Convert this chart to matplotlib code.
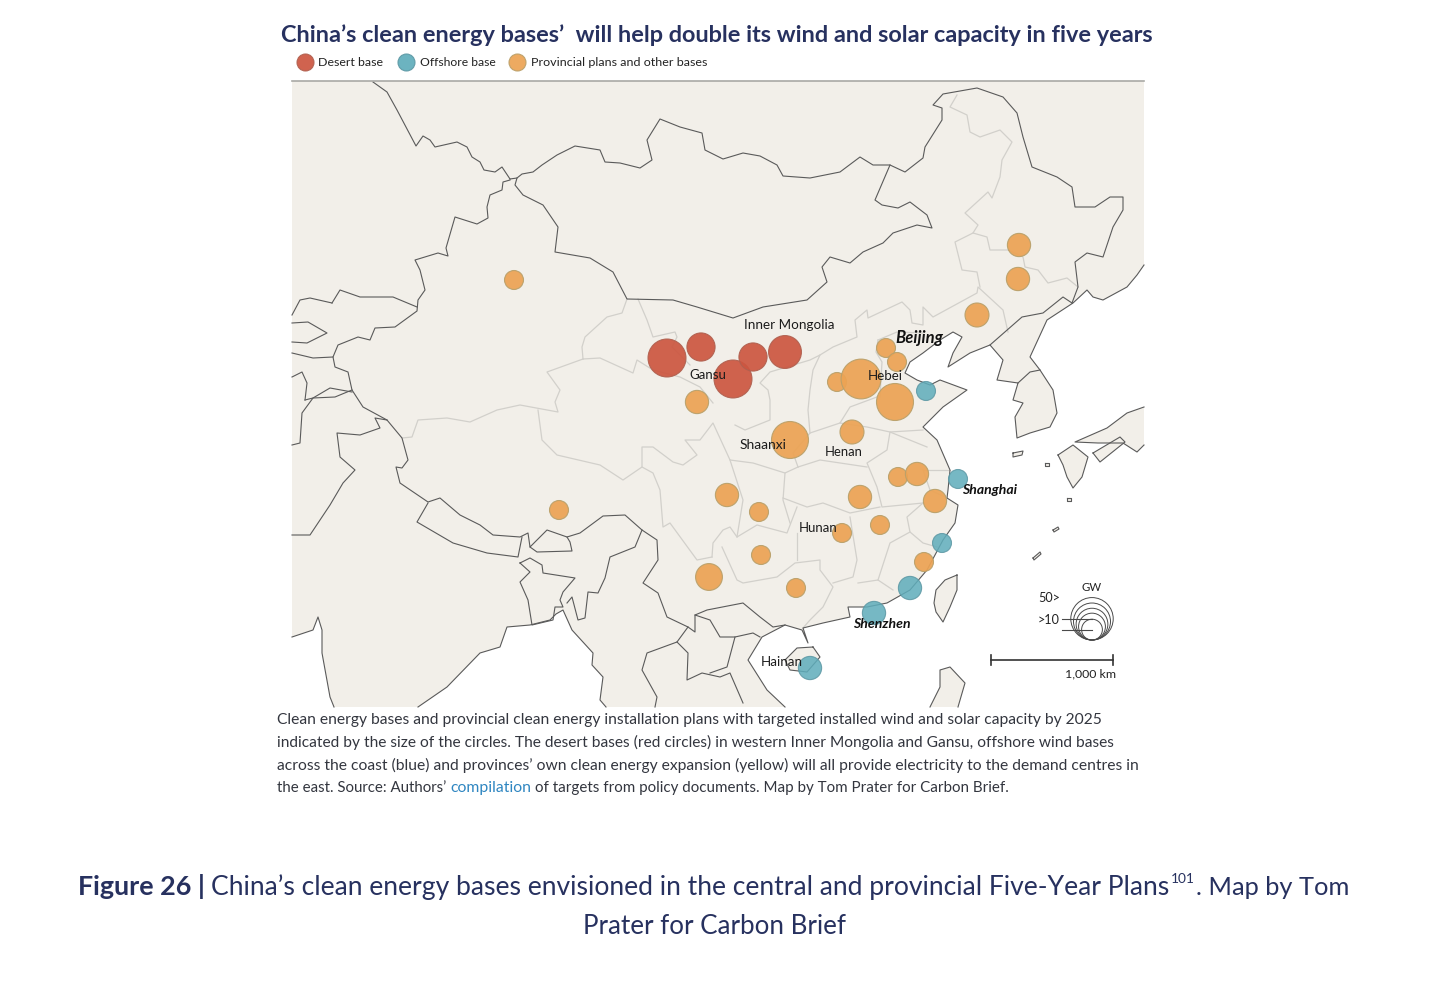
import numpy as np
import matplotlib
matplotlib.use("Agg")
import matplotlib.pyplot as plt
from matplotlib.patches import Polygon, Rectangle

# ---------- data ----------
desert_x = [667, 701, 733, 753, 785]
desert_y = [358, 347, 379, 357, 352]
desert_gw = [40, 22, 40, 22, 30]

offshore_x = [926, 958, 942, 910, 874, 810]
offshore_y = [391, 479, 543, 588, 613, 668]
offshore_gw = [10, 10, 10, 15, 15, 15]

prov_x = [514, 1019, 1018, 977, 886, 897, 837, 861, 895, 697, 790, 852, 898, 917, 935, 860, 727, 759, 880, 842, 761, 924, 709, 796, 559]
prov_y = [280, 245, 279, 315, 348, 362, 382, 379, 402, 402, 440, 432, 477, 474, 501, 497, 495, 512, 525, 533, 555, 562, 577, 588, 510]
prov_gw = [10, 15, 15, 16, 10, 10, 10, 44, 38, 15, 38, 16, 10, 15, 15, 15, 15, 10, 10, 10, 10, 10, 20, 10, 10]

size_legend_gw = [12, 20, 28, 38, 50]

title = "China\u2019s clean energy bases\u2019  will help double its wind and solar capacity in five years"
legend_labels = ["Desert base", "Offshore base", "Provincial plans and other bases"]
caption_lines = [
    "Clean energy bases and provincial clean energy installation plans with targeted installed wind and solar capacity by 2025",
    "indicated by the size of the circles. The desert bases (red circles) in western Inner Mongolia and Gansu, offshore wind bases",
    "across the coast (blue) and provinces\u2019 own clean energy expansion (yellow) will all provide electricity to the demand centres in",
]

# outlines
bay_of_bengal = [(418,707),(447,687),(480,653),(500,647),(507,627),(530,625),(550,620),(556,614),(563,610),(572,630),(593,653),(592,665),(603,677),(600,700),(606,707)]
arabian_sea = [(292,637),(313,630),(318,617),(322,630),(322,653),(330,697),(334,707)]
arabian_corner = [(292,707)]
pacific = [(1144,265),(1137,275),(1127,287),(1103,300),(1093,297),(1087,290),(1073,303),(1047,320),(1030,357),(1040,370),(1053,390),(1057,413),(1050,427),(1030,433),(1017,438),(1015,417),(1023,403),(1013,400),(1018,383),(997,380),(1003,360),(990,345),(970,353),(948,367),(953,353),(962,337),(953,332),(940,340),(923,353),(910,362),(905,373),(917,380),(930,385),(940,380),(967,390),(943,407),(923,427),(937,440),(950,470),(948,490),(947,498),(958,505),(955,523),(943,540),(927,570),(910,590),(887,603),(867,607),(848,607),(850,617),(823,623),(803,628),(808,643),(802,630),(785,625),(762,637),(748,660),(767,690),(785,707)]
pacific_corner = [(1144,707)]

taiwan = [(957,575),(945,580),(936,590),(934,603),(936,612),(943,622),(950,607),(957,590)]
hainan = [(813,647),(797,648),(785,660),(790,670),(807,672),(820,657)]
jeju = [(1013,453),(1023,451),(1022,455),(1013,457)]
kyushu = [(1058,455),(1073,445),(1088,457),(1082,477),(1073,488),(1067,477),(1063,465)]
shikoku = [(1093,453),(1120,437),(1125,442),(1100,462)]
ryukyu_a = [(1045,463),(1049,463),(1049,466),(1045,466)]
ryukyu_b = [(1067,498),(1071,498),(1071,501),(1067,501)]
ryukyu_c = [(1053,530),(1058,527),(1059,529),(1054,532)]
ryukyu_d = [(1033,558),(1040,552),(1041,554),(1034,560)]
closed_islands = [taiwan, hainan, jeju, kyushu, shikoku, ryukyu_a, ryukyu_b, ryukyu_c, ryukyu_d]
# these two run off the map edge, so their outline stays open
luzon = [(958,707),(965,683),(950,667),(940,670),(940,687),(930,707)]
honshu = [(1144,445),(1137,452),(1123,443),(1098,443),(1075,442),(1107,428),(1127,413),(1144,407)]
open_islands = [luzon, honshu]

country_lines = [
    [(373,82),(387,92),(397,110),(416,146),(423,136),(430,140),(435,147),(457,142),(467,147),(472,157),(480,162),(484,170),(495,172),(502,167),(510,179)],
    [(510,179),(517,178),(522,174),(533,172),(542,165),(557,155),(575,146),(600,150),(605,162),(620,163),(640,168),(652,160),(647,140),(660,119),(680,127),(702,133),(705,150),(723,159),(743,153),(760,156),(777,165),(783,176),(810,178),(840,172),(860,157),(873,165),(890,165),(905,172),(923,158),(925,147),(942,120),(942,108),(933,105),(943,94),(977,88),(1003,97),(1017,113),(1023,137),(1032,167),(1057,177),(1072,187),(1075,207),(1095,207),(1110,197),(1123,197),(1123,210),(1113,227),(1103,257),(1087,253),(1075,262),(1078,287),(1072,303)],
    [(517,178),(515,185),(523,195),(543,205),(558,227),(555,252),(590,258),(613,272),(627,299),(673,300),(697,307),(733,318),(763,307),(807,300),(827,282),(822,267),(830,257),(850,263),(863,252),(883,243),(893,233),(917,225),(932,228),(927,215),(910,202),(898,208),(882,205),(875,200),(890,165)],
    [(510,180),(503,182),(502,190),(490,195),(487,207),(488,218),(477,224),(455,217),(446,248),(448,256),(438,253),(415,260),(420,270),(425,290),(418,300),(417,311),(395,327),(375,328),(370,340),(358,337),(338,345),(333,357),(335,367),(348,372),(352,390),(363,407),(387,420),(402,438),(408,460),(402,468),(396,467),(400,483),(428,502),(440,498),(460,515),(480,525),(493,535),(520,537),(528,533),(530,547),(547,530),(567,537),(580,533),(603,516),(625,515),(642,530),(657,540),(658,560),(643,583),(658,593),(667,617),(688,627),(695,632),(695,615),(707,610),(743,603),(760,617),(773,627),(785,625)],
    [(428,503),(417,522),(453,543),(487,553),(518,557),(522,537)],
    [(530,547),(537,552),(572,551),(570,542),(567,537)],
    [(520,563),(530,558),(542,565),(543,573),(575,578),(563,592),(560,600),(563,607),(555,607),(553,620),(532,625),(528,600),(520,582),(530,572),(520,563)],
    [(642,530),(635,547),(610,557),(605,578),(598,593),(588,592),(585,618),(578,620),(572,597),(567,603)],
    [(387,420),(375,418),(380,428),(360,435),(337,433),(340,457),(355,470),(343,483),(330,505),(310,535),(292,535)],
    [(352,390),(335,397),(313,398),(302,413),(300,443),(292,445)],
    [(332,303),(340,290),(360,297),(393,297),(417,307)],
    [(332,303),(310,298),(300,300),(292,315)],
    [(292,323),(308,322),(327,333),(307,343),(292,342)],
    [(292,353),(313,358),(333,357)],
    [(292,377),(302,372),(307,383),(305,400)],
    [(305,400),(313,398),(330,388),(352,392)],
    [(688,627),(677,642),(647,653),(642,670),(657,697),(655,707)],
    [(677,642),(688,653),(687,680),(702,673),(720,677),(730,673),(743,703)],
    [(695,615),(710,620),(720,637),(735,637),(753,633),(760,637)],
    [(735,637),(727,667),(710,673)],
    [(1072,303),(1063,297),(1043,313),(1022,317),(990,345)],
    [(1018,383),(1030,372),(1040,370)],
]

province_lines = [
    [(627,299),(622,313),(607,317),(585,337),(582,347),(583,359)],
    [(583,359),(547,372),(560,390),(555,402),(558,412),(520,405),(497,410),(470,422),(447,418),(418,420),(412,437),(402,438)],
    [(583,359),(600,358),(633,373),(637,360),(653,370),(680,377),(700,387),(713,403)],
    [(638,299),(647,320),(653,337),(675,332),(677,337),(672,347),(690,365)],
    [(538,410),(542,440),(557,455),(600,465),(623,480),(642,467),(653,473),(660,490),(663,527),(670,523),(697,560),(712,557)],
    [(642,467),(642,447),(653,447),(673,462),(683,465),(697,455),(685,440),(700,440),(713,423),(730,460),(753,463),(785,473),(798,467)],
    [(712,557),(713,543),(723,530),(730,527),(737,537),(757,525),(787,533),(797,507)],
    [(722,547),(737,580),(743,583),(777,577),(795,563),(820,560),(820,570),(833,587),(823,607),(810,620),(803,628)],
    [(797,533),(797,560)],
    [(850,517),(857,560),(853,577),(833,583)],
    [(858,583),(878,580),(893,590)],
    [(878,580),(890,543),(910,532),(923,543),(937,547)],
    [(910,532),(907,517),(923,503)],
    [(923,503),(882,507),(877,487),(867,463),(887,450),(890,432),(927,447)],
    [(923,470),(950,470)],
    [(923,470),(930,490),(947,498)],
    [(783,498),(807,507),(823,503),(850,513),(880,507)],
    [(798,467),(820,460),(867,467)],
    [(798,467),(793,453),(810,433),(840,423),(850,407),(877,397)],
    [(810,433),(808,410),(810,390),(813,370),(820,355),(810,360),(770,372),(760,383),(768,390),(770,400),(770,420),(745,430),(735,425)],
    [(840,423),(867,427),(890,432),(923,430)],
    [(785,473),(783,500),(790,523)],
    [(730,460),(743,500),(737,537)],
    [(820,355),(833,347),(857,337),(855,320),(867,310),(868,318),(902,302),(910,310),(912,323),(923,325),(923,307),(933,317),(977,293),(978,287),(1003,310),(1008,332)],
    [(957,95),(950,107),(967,115),(970,132),(980,137),(1000,130),(1012,142),(1002,160),(1000,177),(992,198),(988,192),(965,213),(978,225),(973,233),(987,237),(990,250),(1008,250),(1023,257),(1025,267),(1038,270),(1048,283),(1067,278),(1078,287)],
    [(973,233),(955,242),(962,270),(977,272),(980,287)],
    [(878,340),(897,332),(923,333)],
    [(878,340),(876,352),(882,362),(880,397)],
]

# ---------- figure ----------
W, H = 1456, 981
NAVY = "#27315f"
BODY = "#33363f"
plt.rcParams["font.family"] = ["Lato", "DejaVu Sans"]
fig = plt.figure(figsize=(W / 100, H / 100), dpi=100, facecolor="white")
ax = fig.add_axes([0, 0, 1, 1])
ax.set_xlim(0, W)
ax.set_ylim(H, 0)
ax.axis("off")
renderer = fig.canvas.get_renderer()


def fit(x0, x1, y, s, **kw):
    """Real text, with the font size whose measured width best spans x0..x1 on baseline y."""
    t = ax.text(x0, y, s, va="baseline", ha="left", fontsize=10, zorder=10, **kw)
    target = x1 - x0
    first = 10 * target / t.get_window_extent(renderer).width
    best, best_err = first, float("inf")
    for size in first * np.linspace(0.96, 1.04, 41):
        t.set_fontsize(size)
        err = abs(t.get_window_extent(renderer).width - target)
        if err < best_err:
            best, best_err = size, err
    t.set_fontsize(best)
    return t


def radius(gw):
    return 3.0 * np.sqrt(np.asarray(gw, dtype=float))


def area(r):
    return (2 * np.asarray(r) * 72 / 100) ** 2


def trace(points, closed=False, color="#5a5a5a", lw=0.8, z=4):
    a = np.array(list(points) + ([points[0]] if closed else []))
    ax.plot(a[:, 0], a[:, 1], color=color, lw=lw, zorder=z, solid_joinstyle="round")


# map
LAND = "#f2efe9"
frame = Rectangle((292, 81), 852, 626, fc=LAND, ec="none", zorder=1)
ax.add_patch(frame)
for sea, corner in ((pacific, pacific_corner), (bay_of_bengal, []), (arabian_sea, arabian_corner)):
    ax.add_patch(Polygon(list(sea) + list(corner), closed=True, fc="white", ec="none", zorder=2))
    trace(sea)
for isl in closed_islands + open_islands:
    ax.add_patch(Polygon(isl, closed=True, fc=LAND, ec="none", zorder=3))
for isl in closed_islands:
    trace(isl, closed=True)
for isl in open_islands:
    trace(isl)
for line in province_lines:
    trace(line, color="#d2d0cb", lw=0.9, z=3)
for line in country_lines:
    trace(line)
ax.plot([292, 1144], [81, 81], color="#a9a9a5", lw=1.2, zorder=5)

# bases
RED, BLUE, ORANGE = "#cc5640", "#5fadbb", "#eca354"
EDGE = {RED: "#b0604f", BLUE: "#5d98a4", ORANGE: "#b9a06a"}
ALPHA = {RED: 0.92, BLUE: 0.86, ORANGE: 0.93}
for xs, ys, gw, c in ((prov_x, prov_y, prov_gw, ORANGE),
                      (offshore_x, offshore_y, offshore_gw, BLUE),
                      (desert_x, desert_y, desert_gw, RED)):
    ax.scatter(xs, ys, s=area(radius(gw)), color=c, alpha=ALPHA[c], edgecolor=EDGE[c], linewidth=0.8, zorder=6)

# title and colour key
fit(281, 1151, 42, title, color=NAVY, fontweight="bold")
key_x = [305, 406, 517]
key_text = [(318, 383), (420, 496), (531, 708)]
for kx, c, (a, b), lab in zip(key_x, (RED, BLUE, ORANGE), key_text, legend_labels):
    ax.scatter([kx], [62], s=area(8.5), color=c, alpha=0.92, edgecolor=EDGE[c], linewidth=0.8, zorder=6)
    fit(a, b, 66, lab, color="#222222")

# place labels
place_labels = [("Inner Mongolia", 744, 834, 329), ("Gansu", 689, 726, 379), ("Hebei", 868, 903, 380),
                ("Shaanxi", 740, 787, 449), ("Henan", 825, 863, 456), ("Hunan", 799, 838, 532),
                ("Hainan", 761, 803, 666)]
for s, a, b, y in place_labels:
    fit(a, b, y, s, color="#1c1c1c")
city_labels = [("Beijing", 895, 943, 343), ("Shanghai", 962, 1017, 494), ("Shenzhen", 853, 911, 628)]
for s, a, b, y in city_labels:
    fit(a, b, y, s, color="#111111", fontweight="bold", style="italic")

# size key
cx, base = 1092, 640
rs = radius(size_legend_gw)
ax.scatter([cx] * len(rs), base - rs, s=area(rs), facecolor="none", edgecolor="#4a4a4a", linewidth=0.7, zorder=6)
for top in (base - rs[-1], base - rs[0]):
    ax.plot([1062, cx], [top, top], color="#4a4a4a", lw=0.8, zorder=6)
fit(1081, 1101, 591, "GW", color="#222222")
fit(1038, 1060, 602, "50>", color="#222222")
fit(1038, 1060, 624, ">10", color="#222222")

# scale bar
ax.plot([991, 1113], [660, 660], color="#333333", lw=1.2, zorder=6)
for bx in (991, 1113):
    ax.plot([bx, bx], [655, 665], color="#333333", lw=1.2, zorder=6)
fit(1065, 1116, 677, "1,000 km", color="#222222")

# caption
fit(277, 1104, 724, caption_lines[0], color=BODY)
fit(277, 1114, 747, caption_lines[1], color=BODY)
fit(277, 1137, 770, caption_lines[2], color=BODY)
fit(277, 447, 792, "the east. Source: Authors\u2019", color=BODY)
fit(450, 531, 792, "compilation", color="#2f86c1")
fit(535, 1007, 792, "of targets from policy documents. Map by Tom Prater for Carbon Brief.", color=BODY)

# figure note
fit(78, 205, 895, "Figure 26 |", color=NAVY, fontweight="bold")
fit(211, 1170, 895, "China\u2019s clean energy bases envisioned in the central and provincial Five-Year Plans", color=NAVY)
fit(1171, 1195, 883, "101", color=NAVY)
fit(1196, 1349, 895, ". Map by Tom", color=NAVY)
fit(583, 846, 934, "Prater for Carbon Brief", color=NAVY)

fig.savefig("out.png", dpi=100, facecolor="white")
